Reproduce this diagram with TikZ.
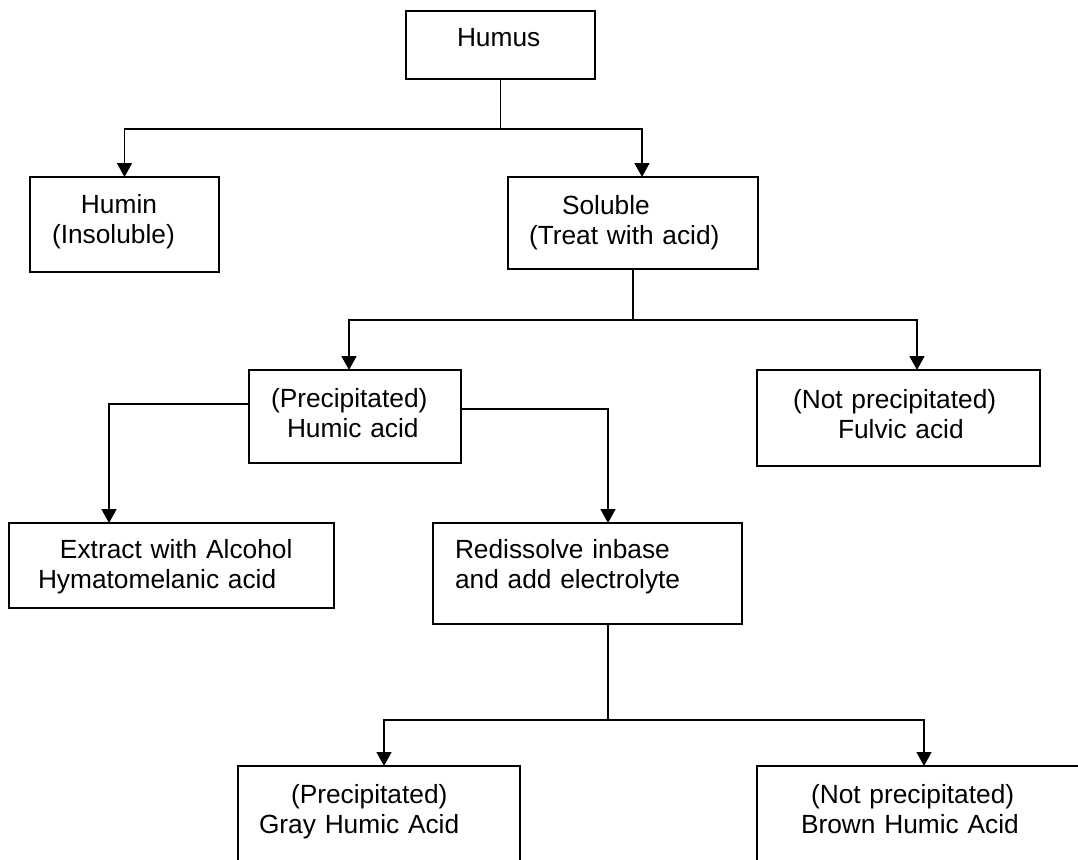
\documentclass[tikz,border=0pt]{standalone}
\usepackage{fontspec}
\setmainfont{Liberation Sans}
\usetikzlibrary{arrows.meta}
\newcommand{\ind}[1]{\hspace*{#1pt}}

\begin{document}
\begin{tikzpicture}[x=1pt,y=-1pt,font=\fontsize{26.3pt}{30pt}\selectfont,
   bx/.style={draw,line width=2pt,inner sep=0pt,outer sep=0pt,align=left,anchor=north west},
   ln/.style={line width=1.6pt},
   arr/.style={ln,-{Triangle[length=14pt,width=15pt]}}]
  \useasboundingbox (0,0) rectangle (1078,859);
  \clip (0,0) rectangle (1078,859);
  \node[bx,text width=189pt,text height=36pt,text depth=32pt] (humus) at (406,11)
       {\ind{51}Humus};
  \node[bx,text width=189pt,text height=36pt,text depth=59pt] (humin) at (30,177)
       {\ind{51}Humin\\\ind{22}(Insoluble)};
  \node[bx,text width=250pt,text height=37pt,text depth=55pt] (soluble) at (508,177)
       {\ind{54}Soluble\\\ind{21}(Treat with acid)};
  \node[bx,text width=212pt,text height=37pt,text depth=56pt] (precip) at (249,370)
       {\ind{22}(Precipitated)\\\ind{38}Humic acid};
  \node[bx,text width=283pt,text height=38pt,text depth=58pt] (fulvic) at (757,370)
       {\ind{36}(Not precipitated)\\\ind{81}Fulvic acid};
  \node[bx,text width=325pt,text height=35pt,text depth=50pt] (extract) at (9,523)
       {\ind{51}Extract with Alcohol\\\ind{29}Hymatomelanic acid};
  \node[bx,text width=309pt,text height=35pt,text depth=66pt] (redis) at (433,523)
       {\ind{22}Redissolve inbase\\\ind{22}and add electrolyte};
  \node[bx,text width=282pt,text height=37pt,text depth=100pt] (gray) at (238,766)
       {\ind{53}(Precipitated)\\\ind{21}Gray Humic Acid};
  \node[bx,text width=340pt,text height=37pt,text depth=100pt] (brown) at (757,766)
       {\ind{54}(Not precipitated)\\\ind{44}Brown Humic Acid};
  \draw[ln] (humus.south) -- ++(0,50) coordinate (j1);
  \draw[arr] (j1) -| (humin.north);
  \draw[arr] (j1) -| ([xshift=9pt]soluble.north);
  \draw[ln] (soluble.south) -- ++(0,51) coordinate (j2);
  \draw[arr] (j2) -| ([xshift=-6pt]precip.north);
  \draw[arr] (j2) -| ([xshift=18.5pt]fulvic.north);
  \draw[arr] ([yshift=12.5pt]precip.west) -| ([xshift=-62.5pt]extract.north);
  \draw[arr] ([yshift=7.5pt]precip.east) -| ([xshift=20.5pt]redis.north);
  \draw[ln] ([xshift=20.5pt]redis.south) -- ++(0,96) coordinate (j3);
  \draw[arr] (j3) -| ([xshift=5pt]gray.north);
  \draw[arr] (j3) -| ([xshift=-3pt]brown.north);
\end{tikzpicture}
\end{document}
